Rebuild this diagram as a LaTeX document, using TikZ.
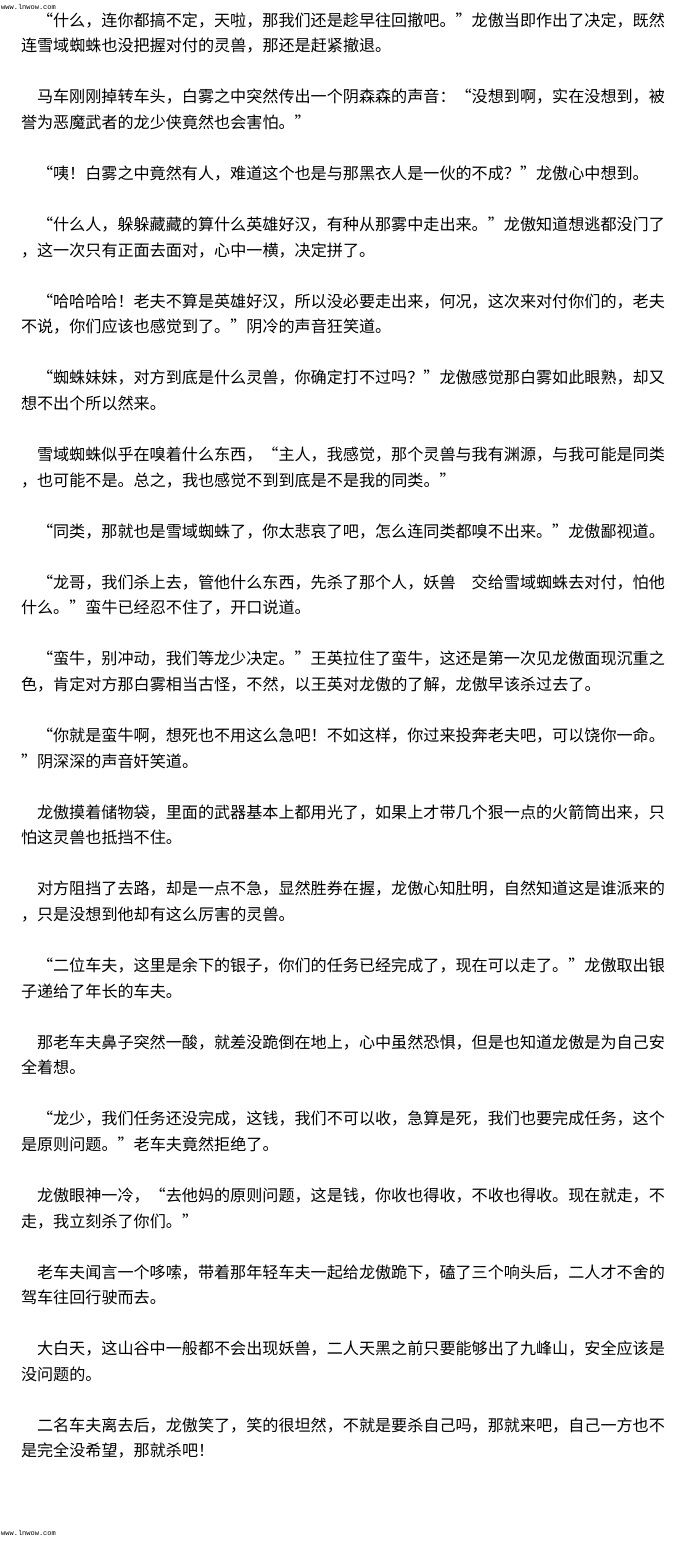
\documentclass[tikz,border=0pt]{standalone}
\usepackage{fontspec}
\setmainfont{Noto Sans CJK SC}
\newfontfamily\sitefont{Liberation Mono}

\tikzstyle{line text}=[anchor=west,inner sep=0pt,outer sep=0pt,
    text height=14.2pt,text depth=1.9pt,color=black,
    font=\fontsize{16.1}{16.1}\selectfont]
\tikzstyle{site mark}=[anchor=west,inner sep=0pt,color=black,
    font=\sitefont\fontsize{7}{7}\selectfont]
\newcommand{\openline}[3]{
    \node[line text] at (37,{20+(#1-1)*25.55}) (#2) {#3};
}
\newcommand{\restline}[3]{
    \node[line text] at (21,{20+(#1-1)*25.55}) (#2) {#3};
}

\begin{document}
\begin{tikzpicture}[x=1pt,y=-1pt]
    \fill[white] (0,0) rectangle (680,1541);
    \useasboundingbox (0,0) rectangle (680,1541);
    \node[site mark] at (1,7) (top) {www.lnwow.com};

    \openline{1}{p1a}{“什么，连你都搞不定，天啦，那我们还是趁早往回撤吧。”龙傲当即作出了决定，既然}
    \restline{2}{p1b}{连雪域蜘蛛也没把握对付的灵兽，那还是赶紧撤退。}
    \openline{4}{p2a}{马车刚刚掉转车头，白雾之中突然传出一个阴森森的声音：“没想到啊，实在没想到，被}
    \restline{5}{p2b}{誉为恶魔武者的龙少侠竟然也会害怕。”}
    \openline{7}{p3a}{“咦！白雾之中竟然有人，难道这个也是与那黑衣人是一伙的不成？”龙傲心中想到。}
    \openline{9}{p4a}{“什么人，躲躲藏藏的算什么英雄好汉，有种从那雾中走出来。”龙傲知道想逃都没门了}
    \restline{10}{p4b}{，这一次只有正面去面对，心中一横，决定拼了。}
    \openline{12}{p5a}{“哈哈哈哈！老夫不算是英雄好汉，所以没必要走出来，何况，这次来对付你们的，老夫}
    \restline{13}{p5b}{不说，你们应该也感觉到了。”阴冷的声音狂笑道。}
    \openline{15}{p6a}{“蜘蛛妹妹，对方到底是什么灵兽，你确定打不过吗？”龙傲感觉那白雾如此眼熟，却又}
    \restline{16}{p6b}{想不出个所以然来。}
    \openline{18}{p7a}{雪域蜘蛛似乎在嗅着什么东西，“主人，我感觉，那个灵兽与我有渊源，与我可能是同类}
    \restline{19}{p7b}{，也可能不是。总之，我也感觉不到到底是不是我的同类。”}
    \openline{21}{p8a}{“同类，那就也是雪域蜘蛛了，你太悲哀了吧，怎么连同类都嗅不出来。”龙傲鄙视道。}
    \openline{23}{p9a}{“龙哥，我们杀上去，管他什么东西，先杀了那个人，妖兽　交给雪域蜘蛛去对付，怕他}
    \restline{24}{p9b}{什么。”蛮牛已经忍不住了，开口说道。}
    \openline{26}{p10a}{“蛮牛，别冲动，我们等龙少决定。”王英拉住了蛮牛，这还是第一次见龙傲面现沉重之}
    \restline{27}{p10b}{色，肯定对方那白雾相当古怪，不然，以王英对龙傲的了解，龙傲早该杀过去了。}
    \openline{29}{p11a}{“你就是蛮牛啊，想死也不用这么急吧！不如这样，你过来投奔老夫吧，可以饶你一命。}
    \restline{30}{p11b}{”阴深深的声音奸笑道。}
    \openline{32}{p12a}{龙傲摸着储物袋，里面的武器基本上都用光了，如果上才带几个狠一点的火箭筒出来，只}
    \restline{33}{p12b}{怕这灵兽也抵挡不住。}
    \openline{35}{p13a}{对方阻挡了去路，却是一点不急，显然胜券在握，龙傲心知肚明，自然知道这是谁派来的}
    \restline{36}{p13b}{，只是没想到他却有这么厉害的灵兽。}
    \openline{38}{p14a}{“二位车夫，这里是余下的银子，你们的任务已经完成了，现在可以走了。”龙傲取出银}
    \restline{39}{p14b}{子递给了年长的车夫。}
    \openline{41}{p15a}{那老车夫鼻子突然一酸，就差没跪倒在地上，心中虽然恐惧，但是也知道龙傲是为自己安}
    \restline{42}{p15b}{全着想。}
    \openline{44}{p16a}{“龙少，我们任务还没完成，这钱，我们不可以收，急算是死，我们也要完成任务，这个}
    \restline{45}{p16b}{是原则问题。”老车夫竟然拒绝了。}
    \openline{47}{p17a}{龙傲眼神一冷，“去他妈的原则问题，这是钱，你收也得收，不收也得收。现在就走，不}
    \restline{48}{p17b}{走，我立刻杀了你们。”}
    \openline{50}{p18a}{老车夫闻言一个哆嗦，带着那年轻车夫一起给龙傲跪下，磕了三个响头后，二人才不舍的}
    \restline{51}{p18b}{驾车往回行驶而去。}
    \openline{53}{p19a}{大白天，这山谷中一般都不会出现妖兽，二人天黑之前只要能够出了九峰山，安全应该是}
    \restline{54}{p19b}{没问题的。}
    \openline{56}{p20a}{二名车夫离去后，龙傲笑了，笑的很坦然，不就是要杀自己吗，那就来吧，自己一方也不}
    \restline{57}{p20b}{是完全没希望，那就杀吧！}

    \node[site mark] at (1,1533) (bottom) {www.lnwow.com};
\end{tikzpicture}
\end{document}
